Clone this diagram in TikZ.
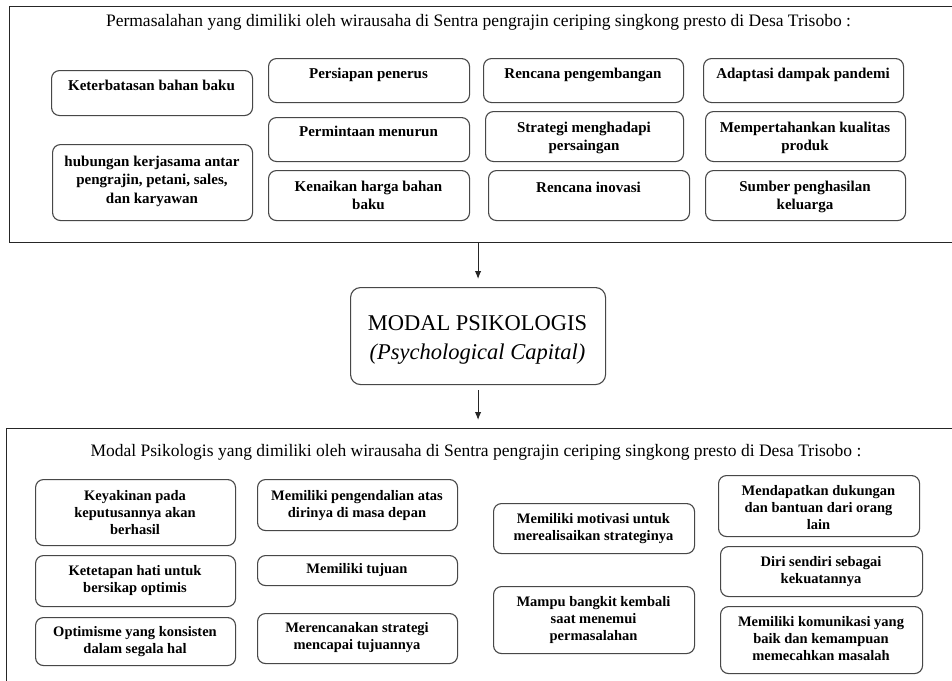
\documentclass[tikz,border=0pt]{standalone}
\usepackage{fontspec}
\setmainfont{Liberation Serif}
\usetikzlibrary{arrows.meta,calc}
% #1 text style, #2 name, #3 x1, #4 y1, #5 x2, #6 y2, #7 mid-y of first line, #8 text
\newcommand{\bxx}[8]{%
  \node[pbox, anchor=north west, minimum width={#5-#3}, minimum height={#6-#4}] (#2) at (#3,#4) {};
  \node[#1, anchor=north] (#2t) at ({(#3+#5)/2},{#7-5.5}) {#8};
}
\begin{document}
\begin{tikzpicture}[x=1pt,y=-1pt,
  frame/.style={draw=black!85, line width=1.4pt, inner sep=0},
  pbox/.style={draw=black!72, line width=1.1pt, rounded corners=8pt, inner sep=0},
  ttop/.style={font=\fontsize{15}{18.5}\selectfont\bfseries, align=center, inner sep=0},
  tbot/.style={font=\fontsize{14.5}{17}\selectfont\bfseries, align=center, inner sep=0},
  title/.style={font=\fontsize{17.5}{20}\selectfont, inner sep=0},
  modalbox/.style={draw=black!72, line width=1.1pt, rounded corners=10pt, inner sep=0},
  arr/.style={draw=black!85, line width=1.1pt, -{Latex[length=8pt,width=6.5pt]}}]
\clip (0,0) rectangle (952,680);
\fill[white] (0,0) rectangle (952,680);

% top frame
\node[frame, anchor=north west, minimum width=970, minimum height=236] (topframe) at (9,6) {};
\node[title, anchor=base] (toptitle) at (478.5,27) {Permasalahan yang dimiliki oleh wirausaha di Sentra pengrajin ceriping singkong presto di Desa Trisobo :};

\bxx{ttop}{a1}{51}{70}{252}{115}{85}{Keterbatasan bahan baku}
\bxx{ttop}{a2}{52}{144}{252}{220}{161}{hubungan kerjasama antar\\pengrajin, petani, sales,\\dan karyawan}
\bxx{ttop}{b1}{268}{58}{469}{102}{73}{Persiapan penerus}
\bxx{ttop}{b2}{268}{117}{469}{161}{131}{Permintaan menurun}
\bxx{ttop}{b3}{268}{170}{469}{220}{186}{Kenaikan harga bahan\\baku}
\bxx{ttop}{c1}{483}{58}{683}{102}{73}{Rencana pengembangan}
\bxx{ttop}{c2}{485}{111}{683}{161}{127}{Strategi menghadapi\\persaingan}
\bxx{ttop}{c3}{488}{170}{689}{220}{187}{Rencana inovasi}
\bxx{ttop}{d1}{703}{58}{903}{102}{73}{Adaptasi dampak pandemi}
\bxx{ttop}{d2}{705}{111}{905}{161}{127}{Mempertahankan kualitas\\produk}
\bxx{ttop}{d3}{705}{170}{905}{220}{186}{Sumber penghasilan\\keluarga}

% middle
\node[modalbox, anchor=north west, minimum width=255, minimum height=97] (modal) at (350,287) {};
\node[align=center, font=\fontsize{22.5}{29}\selectfont, inner sep=0, anchor=base] (modaltext)
  at (477.5,359.5) {MODAL PSIKOLOGIS\\\textit{(Psychological Capital)}};

% bottom frame
\node[frame, anchor=north west, minimum width=975, minimum height=280] (botframe) at (6,428) {};
\node[title, anchor=base] (bottitle) at (476,456) {Modal Psikologis yang dimiliki oleh wirausaha di Sentra pengrajin ceriping singkong presto di Desa Trisobo :};

\bxx{tbot}{e1}{35}{479}{235}{545}{496}{Keyakinan pada\\keputusannya akan\\berhasil}
\bxx{tbot}{e2}{35}{555}{235}{606}{571}{Ketetapan hati untuk\\bersikap optimis}
\bxx{tbot}{e3}{35}{617}{235}{665}{632}{Optimisme yang konsisten\\dalam segala hal}
\bxx{tbot}{f1}{257}{479}{457}{530}{496}{Memiliki pengendalian atas\\dirinya di masa depan}
\bxx{tbot}{f2}{257}{555}{457}{585}{569}{Memiliki tujuan}
\bxx{tbot}{f3}{257}{613}{457}{663}{628}{Merencanakan strategi\\mencapai tujuannya}
\bxx{tbot}{g1}{493}{503}{694}{553}{519}{Memiliki motivasi untuk\\merealisaikan strateginya}
\bxx{tbot}{g2}{493}{586}{694}{653}{602}{Mampu bangkit kembali\\saat menemui\\permasalahan}
\bxx{tbot}{h1}{718}{475}{919}{536}{491}{Mendapatkan dukungan\\dan bantuan dari orang\\lain}
\bxx{tbot}{h2}{720}{546}{922}{596}{562}{Diri sendiri sebagai\\kekuatannya}
\bxx{tbot}{h3}{720}{606}{922}{673}{622}{Memiliki komunikasi yang\\baik dan kemampuan\\memecahkan masalah}

% arrows
\draw[arr, shorten >=8pt] (modal.north |- topframe.south) -- (modal.north);
\draw[arr, shorten <=5pt, shorten >=8pt] (modal.south) -- (modal.south |- botframe.north);
\end{tikzpicture}
\end{document}
